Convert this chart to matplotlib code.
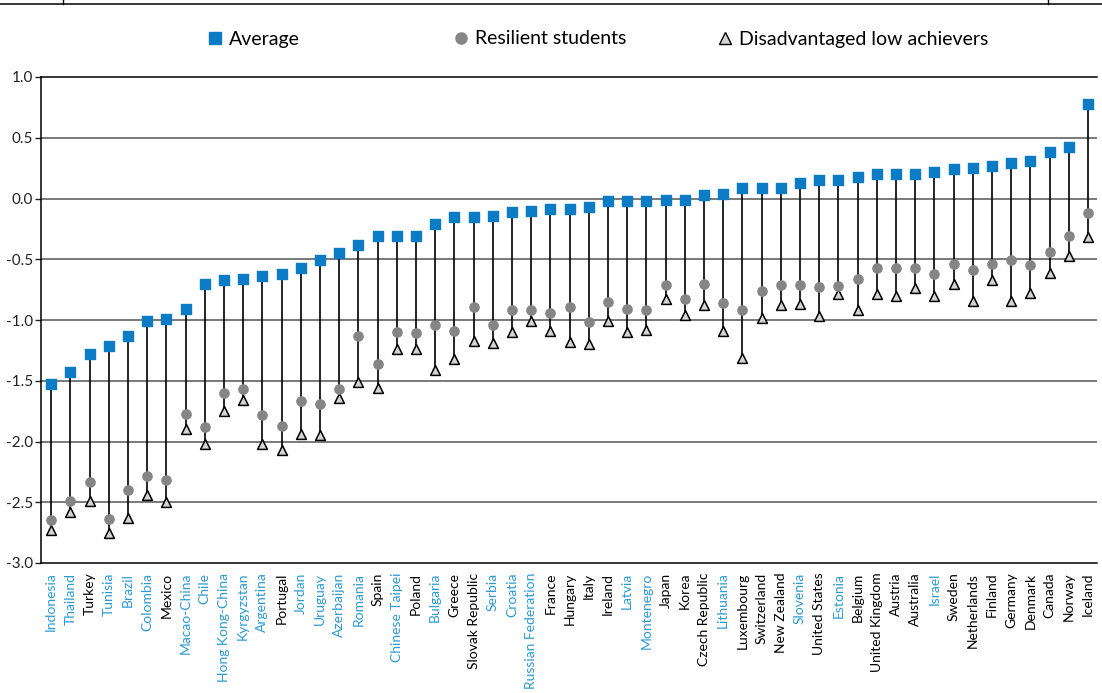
import numpy as np
import matplotlib
matplotlib.use("Agg")
import matplotlib.pyplot as plt
from matplotlib.lines import Line2D

plt.rcParams['font.family'] = ['Lato', 'DejaVu Sans']
plt.rcParams['axes.unicode_minus'] = False

# Countries, ordered by average
countries = ["Indonesia", "Thailand", "Turkey", "Tunisia", "Brazil", "Colombia", "Mexico",
             "Macao-China", "Chile", "Hong Kong-China", "Kyrgyzstan", "Argentina", "Portugal",
             "Jordan", "Uruguay", "Azerbaijan", "Romania", "Spain", "Chinese Taipei", "Poland",
             "Bulgaria", "Greece", "Slovak Republic", "Serbia", "Croatia", "Russian Federation",
             "France", "Hungary", "Italy", "Ireland", "Latvia", "Montenegro", "Japan", "Korea",
             "Czech Republic", "Lithuania", "Luxembourg", "Switzerland", "New Zealand", "Slovenia",
             "United States", "Estonia", "Belgium", "United Kingdom", "Austria", "Australia",
             "Israel", "Sweden", "Netherlands", "Finland", "Germany", "Denmark", "Canada",
             "Norway", "Iceland"]

# Partner countries (shown in blue)
partners = ["Indonesia", "Thailand", "Tunisia", "Brazil", "Colombia", "Macao-China", "Chile",
            "Hong Kong-China", "Kyrgyzstan", "Argentina", "Jordan", "Uruguay", "Azerbaijan",
            "Romania", "Chinese Taipei", "Bulgaria", "Serbia", "Croatia", "Russian Federation",
            "Latvia", "Montenegro", "Lithuania", "Slovenia", "Estonia", "Israel"]

average = [-1.53, -1.43, -1.28, -1.21, -1.13, -1.01, -0.99, -0.91, -0.70, -0.67, -0.66,
           -0.64, -0.62, -0.57, -0.51, -0.45, -0.38, -0.31, -0.31, -0.31, -0.21, -0.15,
           -0.15, -0.14, -0.11, -0.10, -0.09, -0.09, -0.07, -0.02, -0.02, -0.02, -0.01,
           -0.01, 0.03, 0.04, 0.09, 0.09, 0.09, 0.13, 0.15, 0.15, 0.18, 0.20, 0.20, 0.20,
           0.22, 0.24, 0.25, 0.27, 0.29, 0.31, 0.38, 0.42, 0.78]

resilient = [-2.65, -2.49, -2.33, -2.64, -2.40, -2.28, -2.32, -1.77, -1.88, -1.60, -1.57,
             -1.78, -1.87, -1.67, -1.69, -1.57, -1.13, -1.36, -1.10, -1.11, -1.04, -1.09,
             -0.89, -1.04, -0.92, -0.92, -0.94, -0.89, -1.02, -0.85, -0.91, -0.92, -0.71,
             -0.83, -0.70, -0.86, -0.92, -0.76, -0.71, -0.71, -0.73, -0.72, -0.66, -0.57,
             -0.57, -0.57, -0.62, -0.54, -0.59, -0.54, -0.51, -0.55, -0.44, -0.31, -0.12]

low_achievers = [-2.73, -2.58, -2.49, -2.75, -2.63, -2.44, -2.50, -1.90, -2.02, -1.75, -1.66,
                 -2.02, -2.07, -1.94, -1.95, -1.64, -1.51, -1.56, -1.24, -1.24, -1.41, -1.32,
                 -1.17, -1.19, -1.10, -1.01, -1.09, -1.18, -1.20, -1.01, -1.10, -1.08, -0.83,
                 -0.96, -0.88, -1.09, -1.31, -0.98, -0.88, -0.87, -0.97, -0.79, -0.92, -0.79,
                 -0.80, -0.74, -0.80, -0.70, -0.84, -0.67, -0.84, -0.78, -0.61, -0.47, -0.32]

blue = "#0a7bc4"
label_blue = "#2b9ad6"
grey = "#858585"

fig = plt.figure(figsize=(11.02, 6.93), dpi=100)
ax = fig.add_axes([41 / 1102, 1 - 563 / 693, 1056 / 1102, 486 / 693])

x = np.arange(len(countries))
lows = np.minimum(resilient, low_achievers)

# grid lines
for yv in [0.5, 0.0, -0.5, -1.0, -1.5, -2.0, -2.5]:
    ax.axhline(yv, color="#6e6e6e", lw=1.3, zorder=0)

ax.vlines(x, lows, average, color="black", lw=1.2, zorder=1)
ax.scatter(x, low_achievers, marker="^", s=50, facecolor="#d4d4d4", edgecolor="black",
           lw=1.1, zorder=2)
ax.scatter(x, resilient, marker="o", s=44, color=grey, zorder=3)
ax.scatter(x, average, marker="s", s=56, color=blue, zorder=4)

ax.set_xlim(-0.53, len(countries) - 0.53)
ax.set_ylim(-3.0, 1.0)
ax.set_yticks(np.arange(-3.0, 1.01, 0.5))
ax.set_yticklabels([f"{v:.1f}" for v in np.arange(-3.0, 1.01, 0.5)])
ax.set_xticks(x)
ax.set_xticklabels(countries, rotation=90)
for lbl in ax.get_xticklabels():
    lbl.set_color(label_blue if lbl.get_text() in partners else "black")
ax.tick_params(axis="x", length=0, pad=7, labelsize=10)
ax.tick_params(axis="y", length=4, width=1, pad=2, labelsize=11, colors="#222222")
ax.spines["right"].set_visible(False)
for s in ["left", "bottom", "top"]:
    ax.spines[s].set_linewidth(1.1)

# legend, one entry at a time so the gaps match
entries = [
    (Line2D([], [], ls="", marker="s", ms=8.5, color=blue), "Average", 205),
    (Line2D([], [], ls="", marker="o", ms=8, color=grey), "Resilient students", 451),
    (Line2D([], [], ls="", marker="^", ms=8.5, markerfacecolor="#d4d4d4",
            markeredgecolor="black"), "Disadvantaged low achievers", 715),
]
for h, txt, xpix in entries:
    fig.legend(handles=[h], labels=[txt], loc="center left",
               bbox_to_anchor=(xpix / 1102, 1 - 39 / 693), frameon=False, fontsize=14,
               handletextpad=0.25, handlelength=1, borderpad=0, borderaxespad=0)

# page frame on top
fig.add_artist(Line2D([0, 1], [1 - 3.5 / 693, 1 - 3.5 / 693], color="black", lw=1.1))
for xp in [63, 1048]:
    fig.add_artist(Line2D([xp / 1102, xp / 1102], [1 - 3.5 / 693, 1], color="black", lw=1))

fig.savefig("out.png", dpi=100)
